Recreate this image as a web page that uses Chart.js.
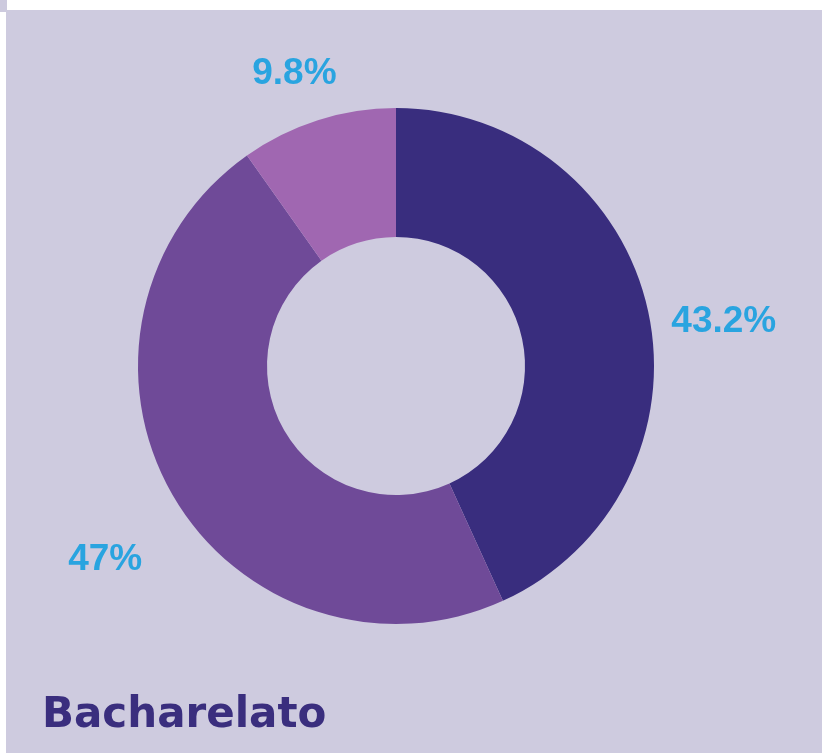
<!DOCTYPE html>
<html>
<head>
<meta charset="utf-8">
<script src="https://cdn.jsdelivr.net/npm/chart.js@4"></script>
<style>
  html, body { margin: 0; padding: 0; background: #ffffff; }
  body { width: 822px; height: 753px; position: relative; overflow: hidden; }
  #corner { position: absolute; left: 0; top: 0; width: 7px; height: 12px; background: #cdcade; }
  #panel { position: absolute; left: 6px; top: 10px; width: 816px; height: 743px; background: #cecbdf; }
  #chartBox { position: absolute; left: 0; top: 0; width: 816px; height: 743px; }
  #title {
    position: absolute; left: 36px; top: 682px;
    font-family: 'DejaVu Sans', sans-serif; font-weight: bold; font-size: 42px;
    line-height: 42px; color: #3a2e7e; white-space: nowrap;
  }
</style>
</head>
<body>
<div id="corner"></div>
<div id="panel">
  <div id="chartBox"><canvas id="donutChart"></canvas></div>
  <div id="title">Bacharelato</div>
</div>
<script>
const categories = ['Segment A', 'Segment B', 'Segment C'];
const shares = [43.2, 47, 9.8];
const shareLabels = ['43.2%', '47%', '9.8%'];
const sliceColors = ['#392d7e', '#6f4a98', '#a067b1'];

// draw the percentage text outside each slice
const outsideLabels = {
  id: 'outsideLabels',
  afterDatasetsDraw(chart) {
    const ctx = chart.ctx;
    const meta = chart.getDatasetMeta(0);
    ctx.save();
    ctx.font = 'bold 37px "Liberation Sans", Arial, sans-serif';
    ctx.fillStyle = '#29a4e0';
    ctx.textAlign = 'center';
    ctx.textBaseline = 'middle';
    meta.data.forEach((arc, i) => {
      const p = arc.getProps(['x', 'y', 'startAngle', 'endAngle', 'outerRadius'], true);
      const mid = (p.startAngle + p.endAngle) / 2;
      const r = p.outerRadius * 1.3;
      const x = p.x + Math.cos(mid) * r;
      const y = p.y + Math.sin(mid) * r + 27;
      ctx.fillText(shareLabels[i], x, y);
    });
    ctx.restore();
  }
};

new Chart(document.getElementById('donutChart'), {
  type: 'doughnut',
  data: {
    labels: categories,
    datasets: [{
      data: shares,
      backgroundColor: sliceColors,
      borderWidth: 0
    }]
  },
  options: {
    responsive: true,
    maintainAspectRatio: false,
    animation: false,
    cutout: '50%',
    layout: { padding: { top: 98, bottom: 129, left: 132, right: 168 } },
    plugins: {
      legend: { display: false },
      tooltip: { enabled: false }
    }
  },
  plugins: [outsideLabels]
});
</script>
</body>
</html>
